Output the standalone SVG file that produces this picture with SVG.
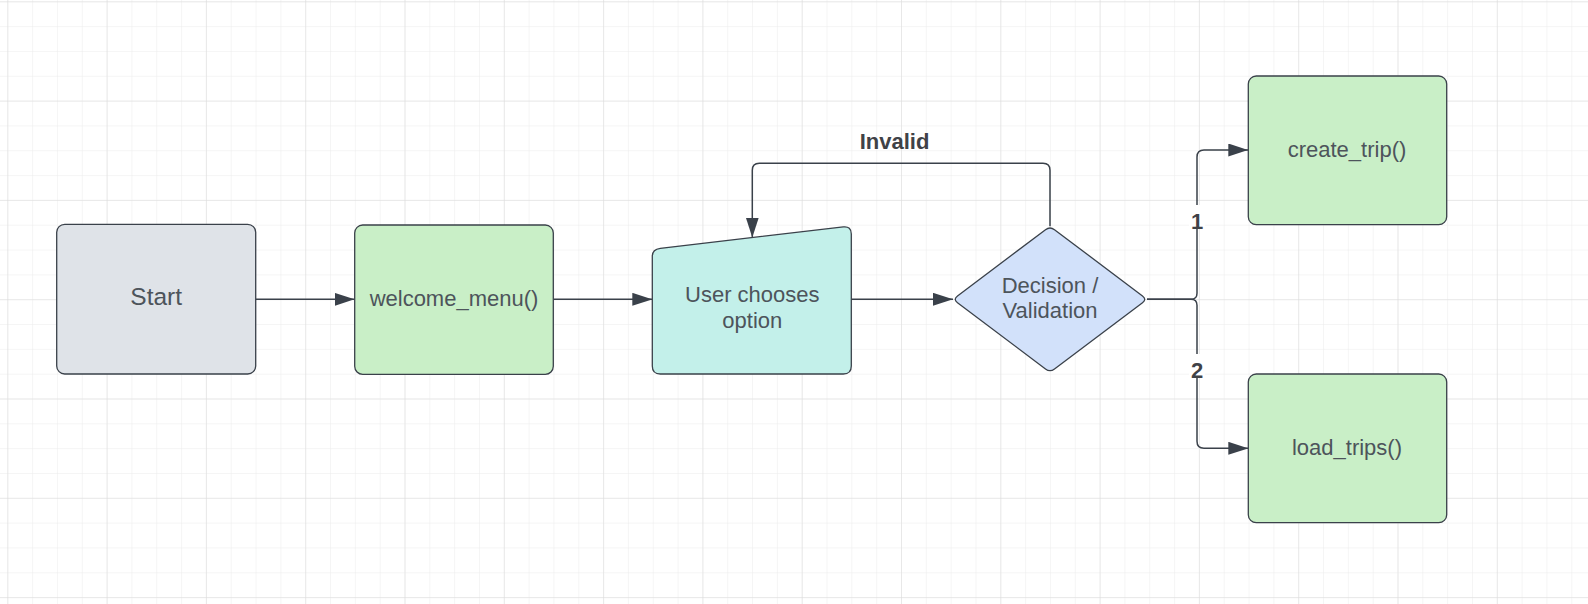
<svg xmlns="http://www.w3.org/2000/svg" width="1588" height="604" viewBox="0 0 1588 604">
<defs>
<pattern id="minor" patternUnits="userSpaceOnUse" x="7.3" y="1.3" width="24.825" height="24.825">
<path d="M0 0V24.825M0 0H24.825" fill="none" stroke="#ebebeb" stroke-width="1"/>
</pattern>
<pattern id="major" patternUnits="userSpaceOnUse" x="7.3" y="1.3" width="99.3" height="99.3">
<path d="M0 0V99.3M0 0H99.3" fill="none" stroke="#dcdcdc" stroke-width="1"/>
</pattern>
<marker id="arr" viewBox="0 0 20 13" refX="20" refY="6.5" markerWidth="20" markerHeight="13" markerUnits="userSpaceOnUse" orient="auto">
<path d="M0 0L20 6.5L0 13Z" fill="#3a414a"/>
</marker>
</defs>
<style>
.node{stroke:#3a414a;stroke-width:1.3}
.lbl{font-family:"Liberation Sans",Arial,sans-serif;font-size:22px;fill:#4d545b;text-anchor:middle}
.edge{fill:none;stroke:#3a414a;stroke-width:1.5}
.elbl{font-family:"Liberation Sans",Arial,sans-serif;font-weight:bold;font-size:22px;fill:#3f4247;text-anchor:middle}
</style>
<rect width="1588" height="604" fill="#ffffff"/>
<rect width="1588" height="604" fill="url(#minor)"/>
<rect width="1588" height="604" fill="url(#major)"/>

<g id="connectors">
<path class="edge" d="M255.7 299.3H354.5" marker-end="url(#arr)"/>
<path class="edge" d="M553.3 299.3H652.3" marker-end="url(#arr)"/>
<path class="edge" d="M851.3 299.3H953" marker-end="url(#arr)"/>
<path class="edge" d="M1050 226.3V170.3Q1050 163.3 1043 163.3H759.3Q752.3 163.3 752.3 170.3V237.5" marker-end="url(#arr)"/>
<path class="edge" stroke-width="2.2" d="M1147 299.3H1191Q1197 299.3 1197 293.3V157Q1197 150 1204 150H1248.3" marker-end="url(#arr)"/>
<path class="edge" stroke-width="2.2" d="M1147 299.3H1191Q1197 299.3 1197 305.3V441.3Q1197 448.3 1204 448.3H1248.3" marker-end="url(#arr)"/>
<text class="elbl" x="894.5" y="149.3">Invalid</text>
<rect x="1189" y="205" width="16" height="24" fill="#ffffff"/>
<text class="elbl" x="1197" y="228.5">1</text>
<rect x="1189" y="354" width="16" height="24" fill="#ffffff"/>
<text class="elbl" x="1197" y="377.5">2</text>
</g>

<g id="start">
<rect class="node" x="56.7" y="224.3" width="199" height="149.7" rx="8" fill="#dfe3e8"/>
<text class="lbl" x="156.2" y="305.3" style="font-size:24.5px">Start</text>
</g>
<g id="welcome_menu">
<rect class="node" x="354.7" y="225" width="198.6" height="149.3" rx="8" fill="#c9efc7"/>
<text class="lbl" x="454" y="305.5">welcome_menu()</text>
</g>
<g id="user_chooses">
<path class="node" d="M660.3 248.3L843.3 226.9Q851.3 226 851.3 234V366Q851.3 374 843.3 374H660.3Q652.3 374 652.3 366V256.3Q652.3 249.2 660.3 248.3Z" fill="#c3f0ea"/>
<text class="lbl" x="752.3" y="302.3">User chooses</text>
<text class="lbl" x="752.3" y="328.3">option</text>
</g>
<g id="decision">
<path class="node" d="M1045.5 229.7Q1050 226.3 1054.5 229.7L1142.5 295.9Q1147 299.3 1142.5 302.7L1054.5 368.9Q1050 372.3 1045.5 368.9L957.5 302.7Q953 299.3 957.5 295.9Z" fill="#d2e1fa"/>
<text class="lbl" x="1050" y="292.7">Decision /</text>
<text class="lbl" x="1050" y="318.3">Validation</text>
</g>
<g id="create_trip">
<rect class="node" x="1248.3" y="76" width="198.4" height="148.7" rx="8" fill="#c9efc7"/>
<text class="lbl" x="1347" y="156.7">create_trip()</text>
</g>
<g id="load_trips">
<rect class="node" x="1248.3" y="374" width="198.4" height="148.7" rx="8" fill="#c9efc7"/>
<text class="lbl" x="1347" y="455">load_trips()</text>
</g>
</svg>
